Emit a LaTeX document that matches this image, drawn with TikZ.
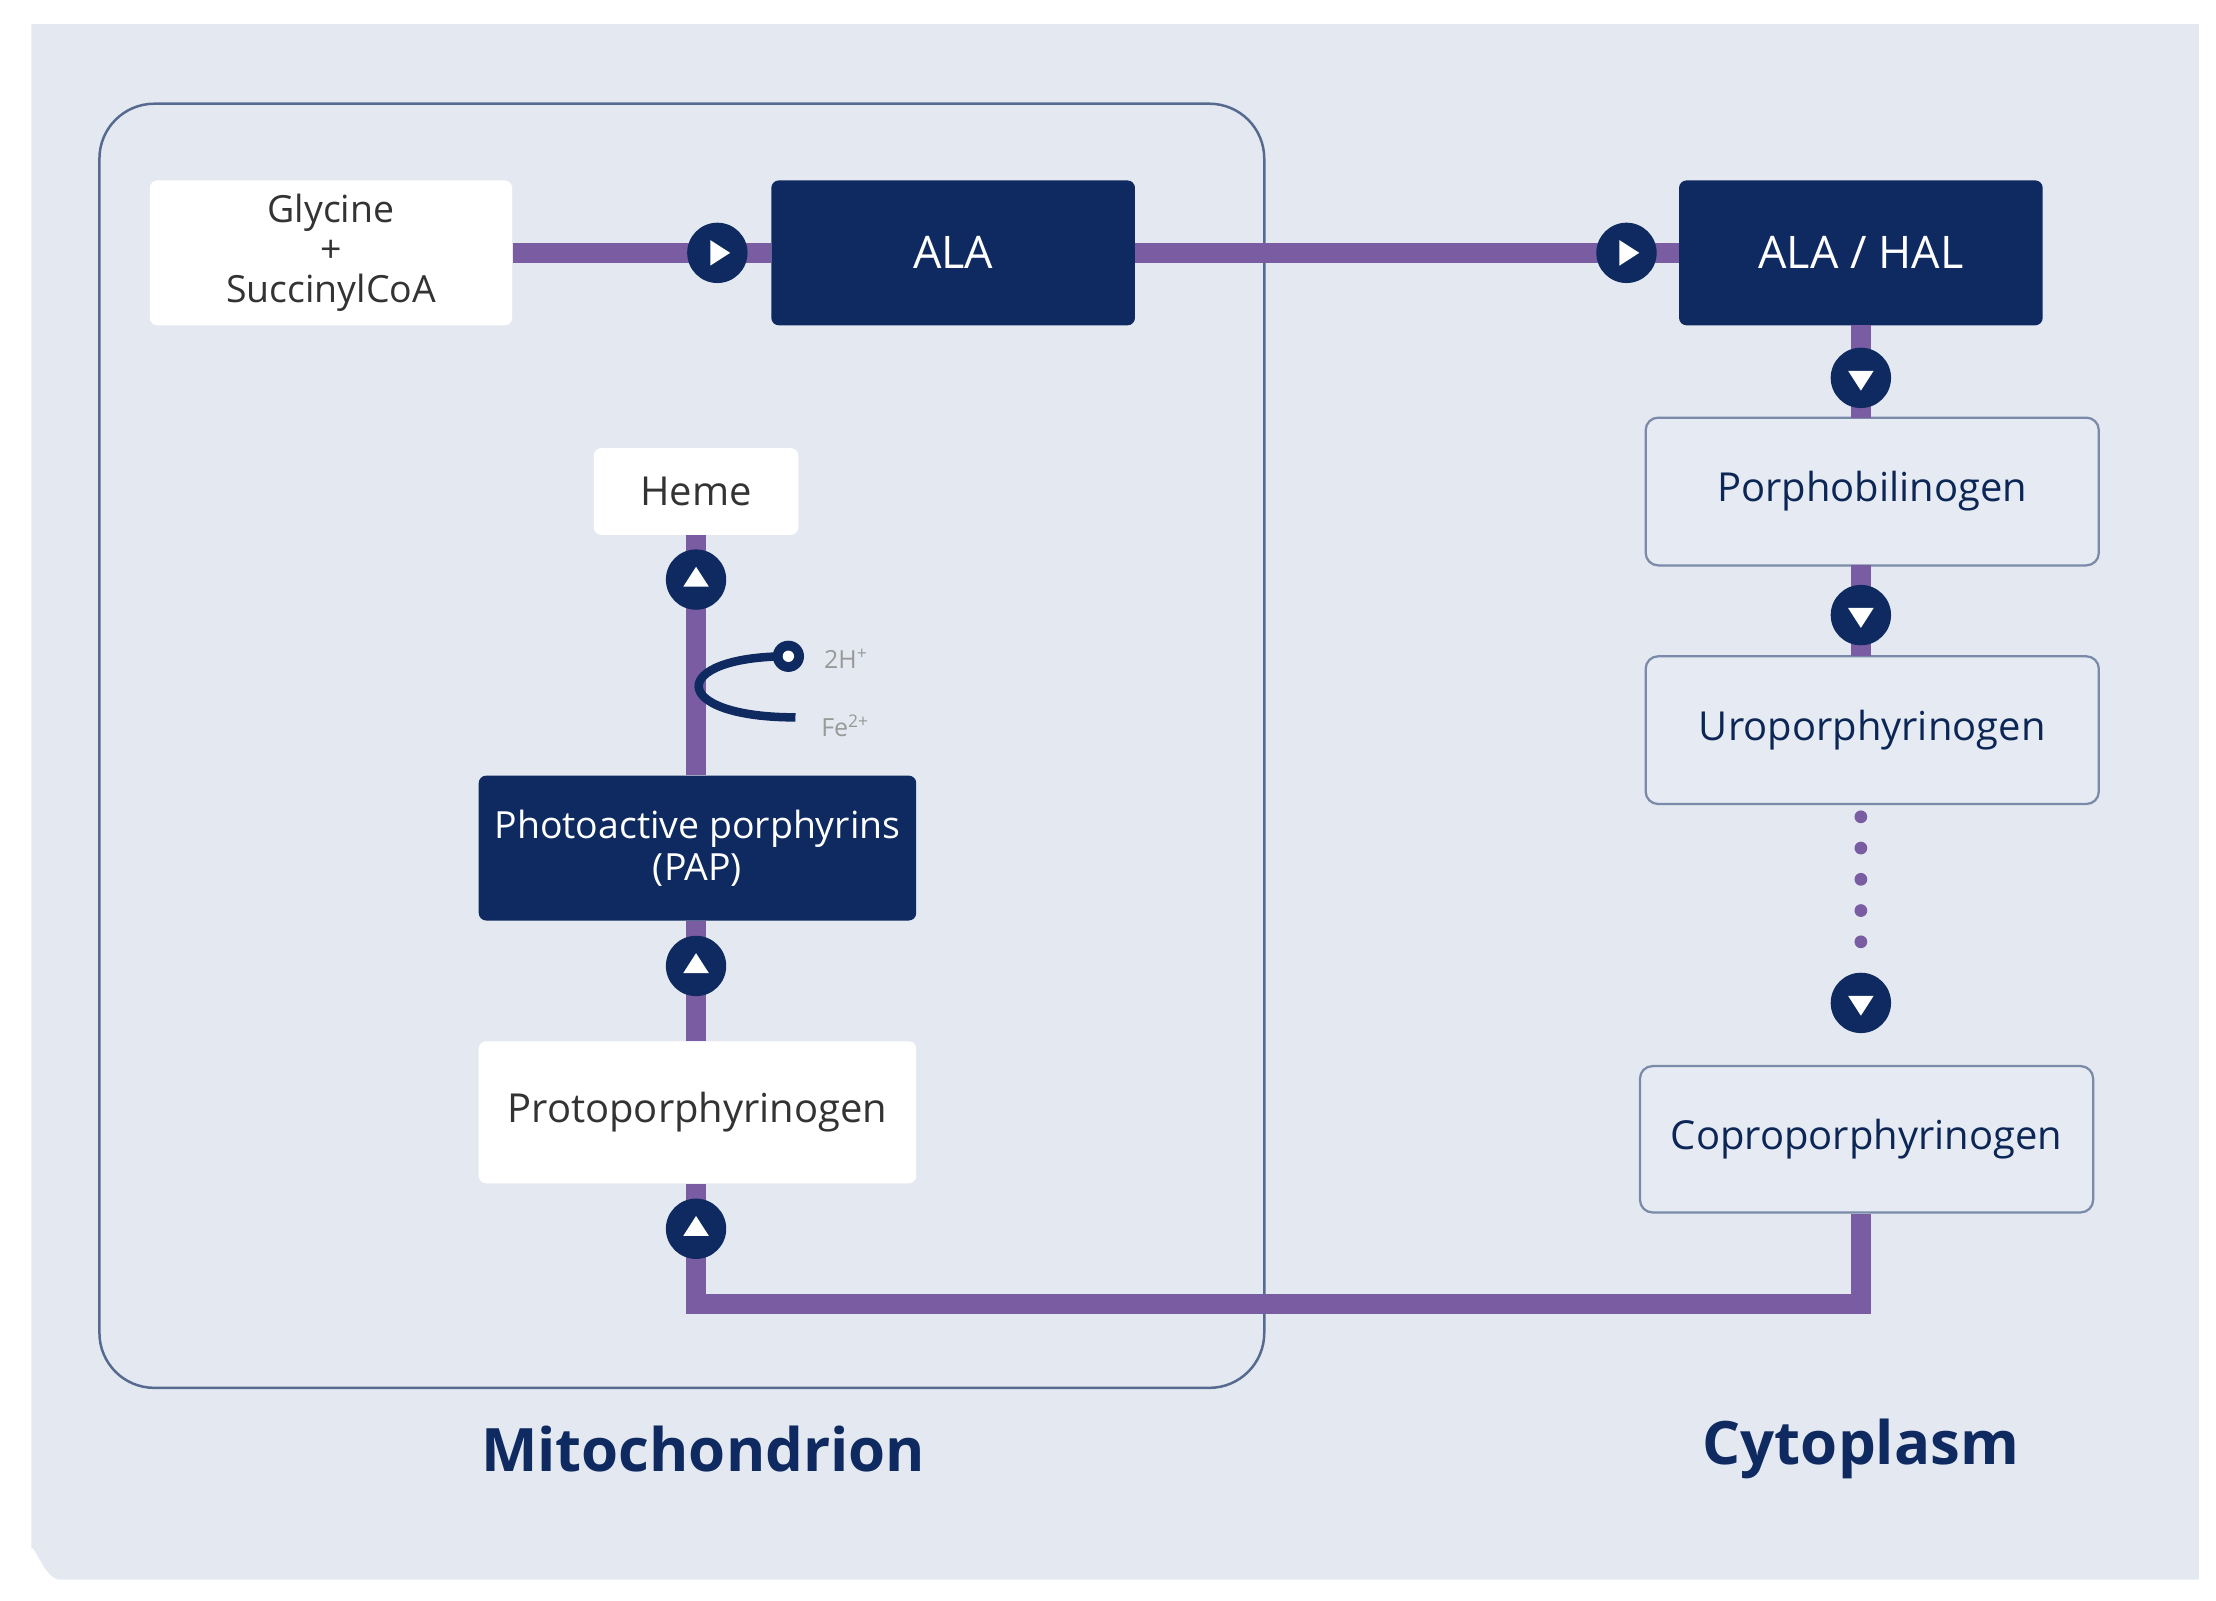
\documentclass[tikz,border=0pt]{standalone}
\usepackage{fontspec}
\setmainfont{Open Sans}
\begin{document}
\definecolor{navy}{HTML}{0E2A60}
\definecolor{purp}{HTML}{7A5CA2}
\definecolor{bg}{HTML}{E4E9F1}
\definecolor{lbox}{HTML}{E6EBF3}
\begin{tikzpicture}[x=0.02cm,y=-0.02cm,
  pl/.style={purp,line width=14*0.02cm},
  wbox/.style={fill=white,rounded corners=3pt,font=\fontsize{16}{19}\selectfont,text=black!80,align=center},
  dbox/.style={fill=navy,rounded corners=3pt,font=\fontsize{18}{18}\selectfont,text=white,align=center},
  lb/.style={fill=lbox,draw=navy!55,line width=0.9pt,rounded corners=5pt,font=\fontsize{16}{19}\selectfont,text=navy!90!black},
  circ/.style={circle,fill=navy,minimum size=0.85cm,inner sep=0pt},
  lab/.style={font=\bfseries\fontsize{24}{27}\selectfont,text=navy}]
\useasboundingbox (0,0) rectangle (1560,1127);
\fill[bg] (22,17) -- (1548,17) -- (1548,1112) -- (42,1112) to[out=180,in=90] (22,1092) -- cycle;
\draw[navy!70,line width=1pt,rounded corners=22pt] (70,73) rectangle (890,977);
% nodes
\node[wbox,minimum width=255*0.02cm,minimum height=102*0.02cm,inner sep=0pt,font=\fontsize{15}{16}\selectfont] (gly) at (233,178) {Glycine\\+\\SuccinylCoA};
\node[dbox,minimum width=256*0.02cm,minimum height=102*0.02cm] (ala) at (671,178) {ALA};
\node[dbox,minimum width=256*0.02cm,minimum height=102*0.02cm] (hal) at (1310,178) {ALA / HAL};
\node[lb,minimum width=319*0.02cm,minimum height=104*0.02cm] (pbg) at (1318,346) {Porphobilinogen};
\node[lb,minimum width=319*0.02cm,minimum height=104*0.02cm] (uro) at (1318,514) {Uroporphyrinogen};
\node[lb,minimum width=319*0.02cm,minimum height=103*0.02cm,inner sep=0pt] (cop) at (1314,802) {Coproporphyrinogen};
\node[wbox,minimum width=308*0.02cm,minimum height=100*0.02cm,inner sep=0pt] (pro) at (491,783) {Protoporphyrinogen};
\node[dbox,minimum width=308*0.02cm,minimum height=102*0.02cm,inner sep=0pt,font=\fontsize{15}{17}\selectfont] (pap) at (491,597) {Photoactive porphyrins\\(PAP)};
\node[wbox,minimum width=144*0.02cm,minimum height=61*0.02cm] (heme) at (490,346) {Heme};
% coordinates
\coordinate (c1) at (1310,918);
\coordinate (c2) at (490,918);
% lines
\draw[pl] (gly.east) -- (ala.west);
\draw[pl] (ala.east) -- (hal.west);
\draw[pl] (1310,229) -- (1310,294);
\draw[pl] (1310,398) -- (1310,462);
\foreach \y in {575,597,619,641,663} \fill[purp] (1310,\y) circle (4.5*0.02cm);
\draw[pl] (cop.south -| c1) -- (c1) -- (c2) -- (pro.south -| c2);
\draw[pl] (pro.north -| c2) -- (pap.south -| c2);
\draw[pl] (pap.north -| c2) -- (heme.south -| c2);
% circles with triangles
\foreach \x/\y/\a/\n in {505/178/0/r1,1145/178/0/r2,1310/266/-90/d1,1310/433/-90/d2,1310/706/-90/d3,490/865/90/u1,490/680/90/u2,490/408/90/u3}{
  \node[circ] (\n) at (\x,\y) {};
  \fill[white,rotate around={\a:(\x,\y)}] (\x+9,\y) -- (\x-5,\y-9) -- (\x-5,\y+9) -- cycle;
}
% hook
\coordinate (hk1) at (555,462);
\coordinate (hk2) at (560,505);
\draw[navy,line width=6*0.02cm] (hk1) .. controls (470,462) and (470,505) .. (hk2);
\fill[navy] (hk1) circle (11*0.02cm);
\fill[white] (hk1) circle (4*0.02cm);
\node[text=black!40,font=\fontsize{10}{10}\selectfont,anchor=west] (h2) at (574,464) {2H\textsuperscript{+}};
\node[text=black!40,font=\fontsize{10}{10}\selectfont,anchor=west] (fe) at (572,511) {Fe\textsuperscript{2+}};
\node[lab] (mito) at (495,1020) {Mitochondrion};
\node[lab] (cyto) at (1310,1020) {Cytoplasm};
\end{tikzpicture}
\end{document}
